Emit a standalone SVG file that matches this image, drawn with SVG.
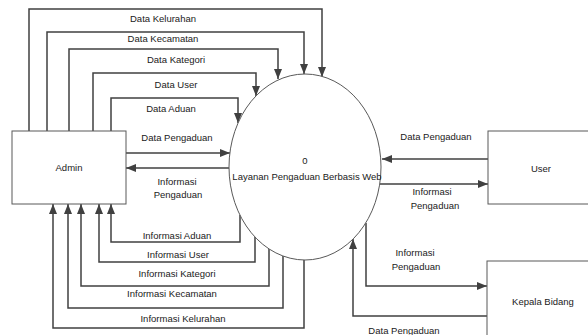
<svg xmlns="http://www.w3.org/2000/svg" width="588" height="335" viewBox="0 0 588 335">
<style>
.box{fill:#fff;stroke:#595959;stroke-width:1}
.proc{fill:#fff;stroke:#595959;stroke-width:1}
.flow{fill:none;stroke:#404040;stroke-width:1.5;marker-end:url(#arr)}
text{font-family:"Liberation Sans",Arial,sans-serif;font-size:9.5px;fill:#1a1a1a;text-anchor:middle}
</style>
<defs>
<marker id="arr" viewBox="0 0 10 8" refX="10" refY="4" markerWidth="10" markerHeight="8" markerUnits="userSpaceOnUse" orient="auto">
<path d="M0,0 L10,4 L0,8 z" fill="#404040"/>
</marker>
</defs>
<g id="connectors">
<path class="flow" d="M29,131 V9 H322 V77"/>
<path class="flow" d="M47,131 V32 H304 V74"/>
<path class="flow" d="M69,131 V49 H278 V79"/>
<path class="flow" d="M93,131 V73 H256 V96"/>
<path class="flow" d="M111,131 V98 H238 V123"/>
<path class="flow" d="M126,153 H230"/>
<path class="flow" d="M229,168 H126"/>
<path class="flow" d="M240,215 V242 H111 V204"/>
<path class="flow" d="M255,237 V262 H99 V204"/>
<path class="flow" d="M269,249 V286 H81 V204"/>
<path class="flow" d="M283,256 V308 H68 V204"/>
<path class="flow" d="M304,260 V328 H53 V204"/>
<path class="flow" d="M488,159 H382"/>
<path class="flow" d="M380,184 H488"/>
<path class="flow" d="M366,223 V286 H487"/>
<path class="flow" d="M487,316 H353 V239"/>
<text x="163" y="22">Data Kelurahan</text>
<text x="163" y="42">Data Kecamatan</text>
<text x="176" y="63">Data Kategori</text>
<text x="176" y="88">Data User</text>
<text x="171" y="112">Data Aduan</text>
<text x="177" y="141">Data Pengaduan</text>
<text x="177" y="185">Informasi</text>
<text x="178" y="198">Pengaduan</text>
<text x="177" y="239">Informasi Aduan</text>
<text x="178" y="258">Informasi User</text>
<text x="177" y="277">Informasi Kategori</text>
<text x="172" y="297">Informasi Kecamatan</text>
<text x="183" y="322">Informasi Kelurahan</text>
<text x="436" y="140">Data Pengaduan</text>
<text x="432" y="195">Informasi</text>
<text x="435" y="209">Pengaduan</text>
<text x="415" y="256">Informasi</text>
<text x="416" y="270">Pengaduan</text>
<text x="404" y="334">Data Pengaduan</text>
</g>
<g id="admin">
<rect class="box" x="12" y="131" width="114" height="73"/>
<text x="69" y="171">Admin</text>
</g>
<g id="process">
<ellipse class="proc" cx="305" cy="167" rx="76" ry="93"/>
<text x="305" y="164">0</text>
<text x="307" y="180">Layanan Pengaduan Berbasis Web</text>
</g>
<g id="user">
<rect class="box" x="488" y="131" width="102" height="73"/>
<text x="541" y="172">User</text>
</g>
<g id="kepala">
<rect class="box" x="487" y="261" width="103" height="80"/>
<text x="543" y="305">Kepala Bidang</text>
</g>
</svg>
